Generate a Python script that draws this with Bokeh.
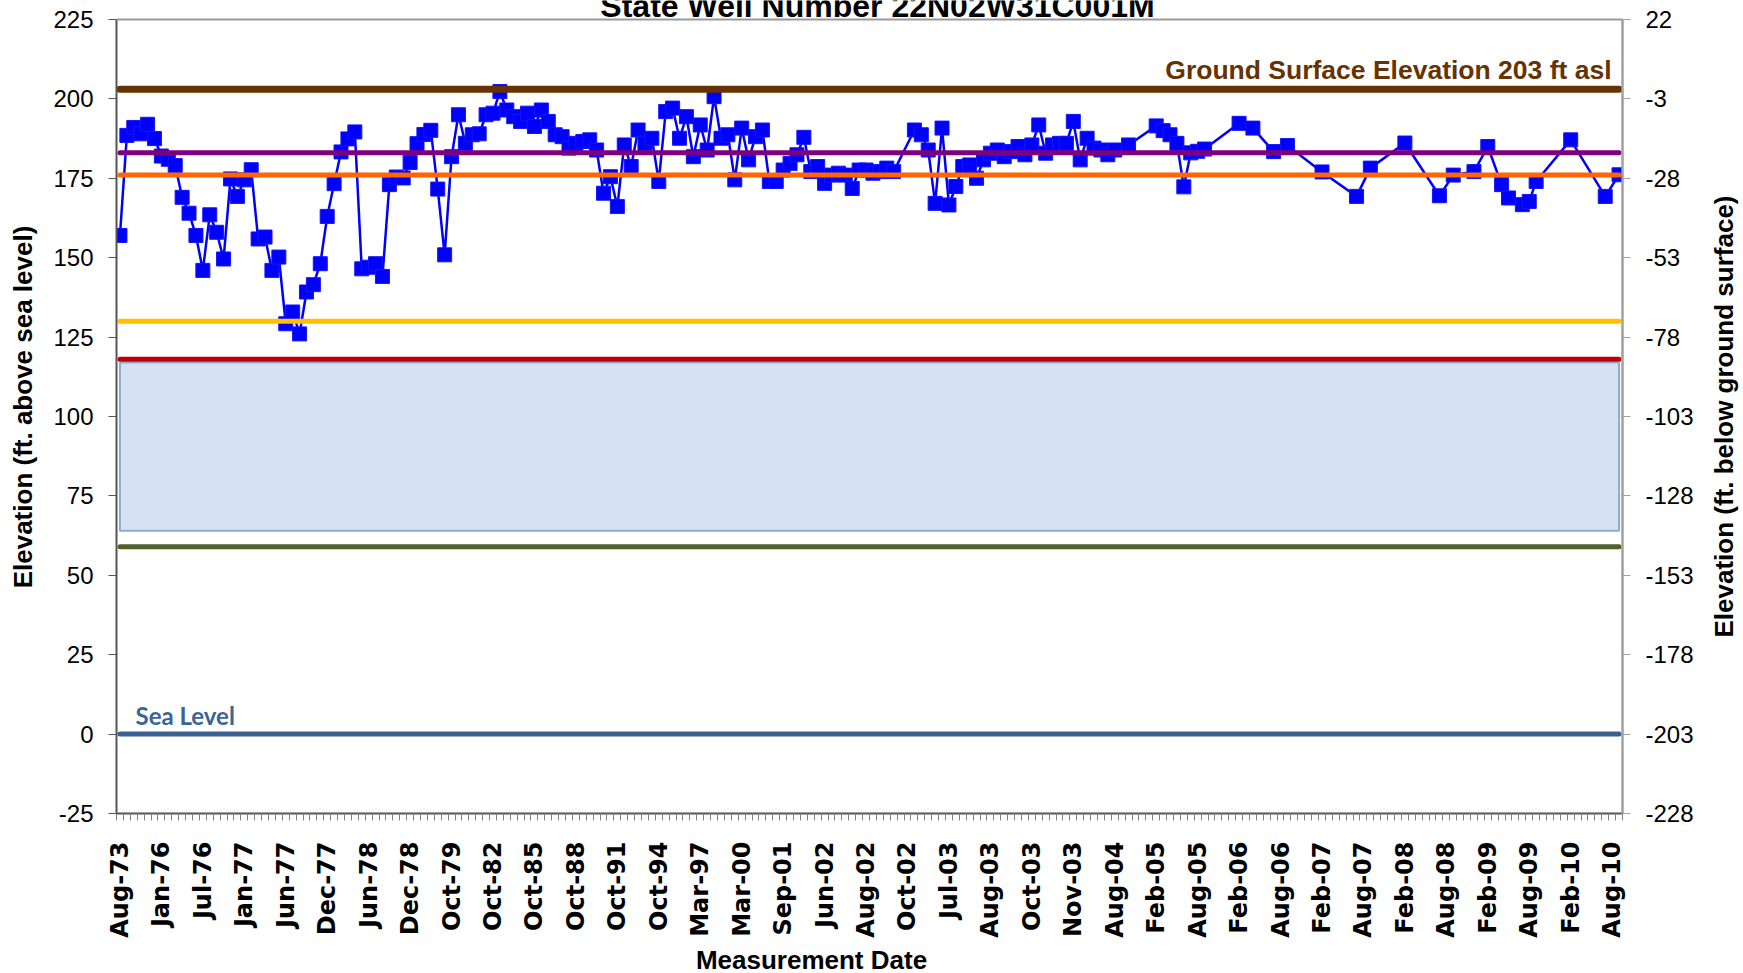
import math
from bokeh.plotting import figure
from bokeh.layouts import column, row
from bokeh.models import Range1d, LinearAxis, FixedTicker, ColumnDataSource, Span
from bokeh.core.properties import value
from bokeh.embed import file_html
from bokeh.resources import INLINE

# ---------------- data ----------------
title_text = "State Well Number 22N02W31C001M"
x_title = "Measurement Date"
y_title_left = "Elevation (ft. above sea level)"
y_title_right = "Elevation (ft. below ground surface)"
tick_labels = ["Aug-73", "Jan-76", "Jul-76", "Jan-77", "Jun-77", "Dec-77", "Jun-78", "Dec-78",
               "Oct-79", "Oct-82", "Oct-85", "Oct-88", "Oct-91", "Oct-94", "Mar-97", "Mar-00",
               "Sep-01", "Jun-02", "Aug-02", "Oct-02", "Jul-03", "Aug-03", "Oct-03", "Nov-03",
               "Aug-04", "Feb-05", "Aug-05", "Feb-06", "Aug-06", "Feb-07", "Aug-07", "Feb-08",
               "Aug-08", "Feb-09", "Aug-09", "Feb-10", "Aug-10"]
label_every = 6  # one date label every 6 measurement categories

# groundwater elevation (ft above sea level), one entry per category (None = no reading)
water_level = [
    157, 188.5, 191, 189, 192, 187.5, 182, 181, 179, 169,
    164, 157, 146, 163.5, 158, 149.6, 174.8, 169.3, 174.5, 177.7,
    155.9, 156.5, 146, 150.2, 129.2, 132.9, 126, 139.2, 141.5, 148.1,
    163, 173.3, 183.3, 187.4, 189.6, 146.5, 147, 148.1, 144.1, 173,
    175.4, 175.1, 180, 185.9, 188.8, 190.1, 171.6, 150.9, 181.8, 195,
    186, 188.7, 189, 195, 195.5, 202.3, 196.5, 194.4, 192.9, 195.5,
    191.3, 196.5, 192.9, 188.7, 188.1, 184.5, 186, 186.6, 187.1, 183.9,
    170.3, 175.5, 166.1, 185.5, 178.7, 190.2, 186, 187.6, 174, 196,
    197.1, 187.6, 194.4, 181.8, 191.8, 183.9, 200.7, 187.6, 188.7, 174.5,
    190.8, 180.8, 188.1, 190.2, 174, 174, 177.6, 179.7, 182.4, 187.9,
    177.1, 178.7, 173.4, 176, 176.6, 176, 171.8, 177.6, 177.6, 176.6,
    177.1, 178.2, 177.1, None, None, 190.2, 188.7, 183.9, 167.1, 190.8,
    166.6, 172.4, 178.7, 179.2, 175, 180.8, 182.9, 183.9, 181.8, 183.4,
    185, 182.4, 185.5, 191.8, 182.9, 185.5, 186, 186, 192.9, 180.8,
    187.6, 184.5, 183.9, 182.4, 183.9, None, 185.5, None, None, None,
    191.5, 190, 188.7, 186, 172.3, 183, 183.5, 184.2, None, None,
    None, None, 192.3, None, 190.8, None, None, 183.4, None, 185.3,
    None, None, None, None, 177, None, None, None, None, 169.3,
    None, 178.2, None, None, None, None, 186.1, None, None, None,
    None, 169.5, None, 176, None, None, 177.1, None, 185, None,
    173, 168.8, None, 166.7, 167.7, 174, None, None, None, None,
    187.1, None, None, None, None, 169.3, None, 176.1,
]

ground_surface = 203
ref_levels = [183, 176, 130, 118, 59, 0]
ref_colors = ["#7F007F", "#FF6600", "#FFC000", "#C00000", "#4F6228", "#3A6191"]
screen_top = 117
screen_bottom = 64
y_ticks = [-25, 0, 25, 50, 75, 100, 125, 150, 175, 200, 225]
y_axis_min, y_axis_max = -25, 225

# ---------------- layout (page pixels) ----------------
PAGE_W, PAGE_H = 1743, 973
BOTTOM_STRIP = 33       # strip holding the x-axis title
RIGHT_STRIP = 43        # strip holding the right y-axis title
MAIN_W = PAGE_W - RIGHT_STRIP
MAIN_H = PAGE_H - BOTTOM_STRIP
FL, FW = 116, 1506      # frame left / width in page pixels
AX_TOP, AX_BOT = 19, 814  # page rows of the 225 and -25 ticks

n = len(water_level)
x_lo, x_hi = -0.5, n - 0.5
units_per_px = (y_axis_max - y_axis_min) / (AX_BOT - AX_TOP)
# the frame reaches the top of the page so the (cut-off) title can sit inside it
y_lo, y_hi = y_axis_min, y_axis_max + AX_TOP * units_per_px


def xd(px):
    return x_lo + (px - FL) / FW * (x_hi - x_lo)


def yd(py):
    return y_axis_max - (py - AX_TOP) * units_per_px


def hyphen(v):
    return str(v).replace("\u2212", "-")


def strip(w, h, x0, y0):
    f = figure(width=w, height=h, title=None, toolbar_location=None, output_backend="svg",
               x_range=Range1d(x0, x0 + w), y_range=Range1d(y0 + h, y0),
               min_border=0, x_axis_type=None, y_axis_type=None)
    f.outline_line_color = None
    f.grid.grid_line_color = None
    f.background_fill_color = "white"
    f.border_fill_color = "white"
    return f


p = figure(width=MAIN_W, height=MAIN_H, title=None, toolbar_location=None, output_backend="svg",
           x_range=Range1d(x_lo, x_hi), y_range=Range1d(y_lo, y_hi),
           min_border_left=FL, min_border_top=0,
           min_border_right=MAIN_W - FL - FW,
           min_border_bottom=MAIN_H - AX_BOT,
           x_axis_type=None, y_axis_type=None)
p.background_fill_color = "white"
p.border_fill_color = "white"
p.outline_line_color = None

# left axis
yax = LinearAxis(ticker=FixedTicker(ticks=y_ticks), bounds=(y_axis_min, y_axis_max))
yax.major_label_overrides = {t: hyphen(t) for t in y_ticks}
yax.axis_line_color = "#555555"
yax.axis_line_width = 2
yax.major_tick_out = 8
yax.major_tick_in = 0
yax.major_tick_line_color = "#555555"
yax.minor_tick_line_color = None
yax.major_label_standoff = 15
yax.major_label_text_font = "Liberation Sans"
yax.major_label_text_font_size = "24px"
yax.major_label_text_color = "black"
yax.axis_label = y_title_left
yax.axis_label_standoff = 12
yax.axis_label_text_font = "Liberation Sans"
yax.axis_label_text_font_style = "bold"
yax.axis_label_text_font_size = "26px"
yax.axis_label_text_color = "black"
p.add_layout(yax, "left")

# right axis (ft below ground surface)
depth_ticks = [t - ground_surface for t in y_ticks]
p.extra_y_ranges = {"depth": Range1d(y_lo - ground_surface, y_hi - ground_surface)}
rax = LinearAxis(y_range_name="depth", ticker=FixedTicker(ticks=depth_ticks),
                 bounds=(y_axis_min - ground_surface, y_axis_max - ground_surface))
rax.major_label_overrides = {t: hyphen(t) for t in depth_ticks}
rax.axis_line_color = "#A0A0A0"
rax.axis_line_width = 2.5
rax.major_tick_out = 8
rax.major_tick_in = 0
rax.major_tick_line_color = "#A0A0A0"
rax.minor_tick_line_color = None
rax.major_label_standoff = 15
rax.major_label_text_font = "Liberation Sans"
rax.major_label_text_font_size = "24px"
rax.major_label_text_color = "black"
p.add_layout(rax, "right")

# bottom category axis
major = [i * label_every for i in range(len(tick_labels))]
xax = LinearAxis(ticker=FixedTicker(ticks=major, minor_ticks=[i - 0.5 for i in range(n + 1)]))
xax.major_label_overrides = {m: lab for m, lab in zip(major, tick_labels)}
xax.major_label_orientation = math.pi / 2
xax.major_label_text_font = "DejaVu Sans"
xax.major_label_text_font_style = "bold"
xax.major_label_text_font_size = "24px"
xax.major_label_text_color = "black"
xax.major_label_standoff = 21
xax.major_tick_out = 0
xax.major_tick_in = 0
xax.minor_tick_out = 7
xax.minor_tick_in = 0
xax.minor_tick_line_color = "#808080"
xax.axis_line_color = "#555555"
xax.axis_line_width = 2
p.add_layout(xax, "below")

# gridlines
p.ygrid.ticker = FixedTicker(ticks=y_ticks[:-1])
p.ygrid.grid_line_color = "#1A1A1A"
p.ygrid.grid_line_width = 1
p.xgrid.grid_line_color = None
p.add_layout(Span(location=y_axis_max, dimension="width", line_color="#9A9A9A", line_width=2))

# screened-interval box
p.quad(left=[0], right=[n - 1], bottom=[screen_bottom], top=[screen_top],
       fill_color="#ADC5E5", fill_alpha=0.5, line_color="#8FAAD4", line_width=2)

# water level series
xs = [i for i, v in enumerate(water_level) if v is not None]
ys = [v for v in water_level if v is not None]
src = ColumnDataSource(dict(x=xs, y=ys))
p.line("x", "y", source=src, line_color="#0000FF", line_width=2.5)
p.scatter("x", "y", source=src, marker="square", size=14,
          fill_color="#0000FF", line_color="#1414FF", line_width=1)

# reference levels
for lvl, col in zip(ref_levels, ref_colors):
    p.line([0, n - 1], [lvl, lvl], line_color=col, line_width=5, line_cap="round")
p.line([0, n - 1], [ground_surface, ground_surface], line_color="#663300",
       line_width=7, line_cap="round")

# texts
p.text(x=[xd(877)], y=[yd(6)], text=[title_text], text_align="center",
       text_baseline="alphabetic", text_font=value("Liberation Sans"),
       text_font_style="bold", text_font_size="32px", text_color="black")
p.text(x=[xd(1611)], y=[yd(70)], text=[f"Ground Surface Elevation {ground_surface} ft asl"],
       text_align="right", text_baseline="alphabetic", text_font=value("Liberation Sans"),
       text_font_style="bold", text_font_size="26.5px", text_color="#663300")
p.text(x=[xd(135)], y=[yd(716)], text=["Sea Level"], text_align="left",
       text_baseline="alphabetic", text_font=value("Lato"), text_font_style="bold",
       text_font_size="24px", text_color="#3B6596")

# right title strip
pr = strip(RIGHT_STRIP, MAIN_H, MAIN_W, 0)
pr.text(x=[1723], y=[481], text=[y_title_right], angle=math.pi / 2, text_align="center",
        text_baseline="middle", text_font=value("Liberation Sans"), text_font_style="bold",
        text_font_size="26px", text_color="black")

# bottom title strip
pb = strip(PAGE_W, BOTTOM_STRIP, 0, PAGE_H - BOTTOM_STRIP)
pb.text(x=[811], y=[959], text=[x_title], text_align="center", text_baseline="alphabetic",
        text_font=value("Liberation Sans"), text_font_style="bold", text_font_size="26px",
        text_color="black")

layout = column(row(p, pr), pb)
open("out.html", "w").write(file_html(layout, INLINE))
